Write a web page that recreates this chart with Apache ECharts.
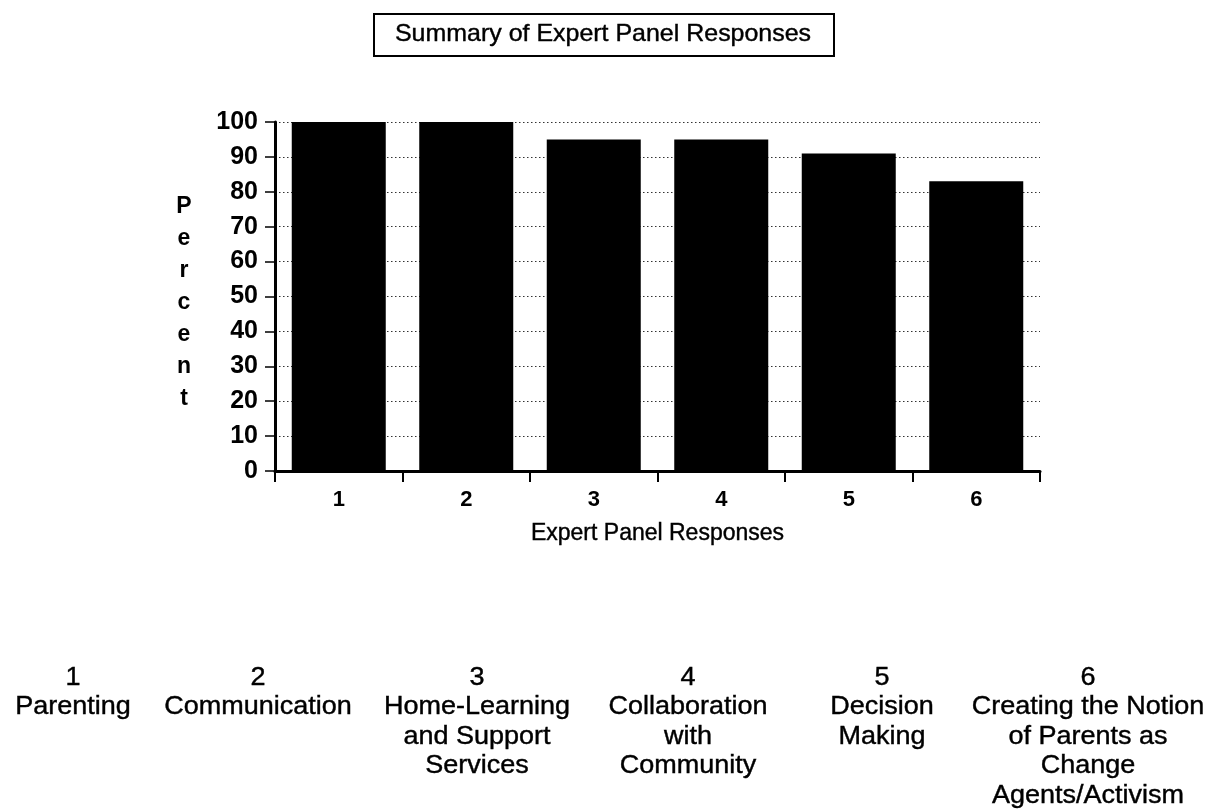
<!DOCTYPE html>
<html>
<head>
<meta charset="utf-8">
<script src="https://cdn.jsdelivr.net/npm/echarts@6/dist/echarts.min.js"></script>
<style>
html,body{margin:0;padding:0;background:#fff;}
#chart{width:1216px;height:812px;}
</style>
</head>
<body>
<div id="chart"></div>
<script>
var categories = ['1', '2', '3', '4', '5', '6'];
var percentValues = [100, 100, 95, 95, 91, 83];
var chartTitle = 'Summary of Expert Panel Responses';
var xAxisTitle = 'Expert Panel Responses';
var yAxisTitle = 'Percent';
var legendNumbers = ['1', '2', '3', '4', '5', '6'];
var legendNames = [
  'Parenting',
  'Communication',
  'Home-Learning\nand Support\nServices',
  'Collaboration\nwith\nCommunity',
  'Decision\nMaking',
  'Creating the Notion\nof Parents as\nChange\nAgents/Activism'
];

var FONT = "'Liberation Sans', Arial, Helvetica, sans-serif";
var legendCenters = [73, 258, 477, 688, 882, 1088];

var chart = echarts.init(document.getElementById('chart'), null, {renderer: 'canvas'});

var graphics = [
  {
    type: 'rect', left: 373, top: 13,
    shape: {width: 460, height: 42},
    style: {fill: '#fff', stroke: '#000', lineWidth: 2}
  },
  {
    type: 'text', x: 603, y: 34, scaleX: 1.04,
    style: {text: chartTitle, font: '24px ' + FONT, fill: '#000', align: 'center', verticalAlign: 'middle',
            stroke: '#000', lineWidth: 0.4}
  },
  {
    type: 'text', x: 184, y: 191,
    style: {text: yAxisTitle.split('').join('\n'), font: 'bold 23px ' + FONT, fill: '#000',
            align: 'center', verticalAlign: 'top', lineHeight: 32}
  }
];
for (var i = 0; i < legendNames.length; i++) {
  graphics.push({
    type: 'text', x: legendCenters[i], y: 663, scaleX: 1.08,
    style: {text: legendNumbers[i] + '\n' + legendNames[i], font: '25px ' + FONT, fill: '#000',
            align: 'center', verticalAlign: 'top', lineHeight: 29.5,
            stroke: '#000', lineWidth: 0.4}
  });
}

chart.setOption({
  backgroundColor: '#fff',
  animation: false,
  grid: {left: 275, right: 176, top: 122, bottom: 341, containLabel: false},
  xAxis: {
    type: 'category',
    data: categories,
    boundaryGap: true,
    name: xAxisTitle,
    nameLocation: 'middle',
    nameGap: 51,
    nameTextStyle: {fontFamily: FONT, fontSize: 23, color: '#000', textBorderColor: '#000', textBorderWidth: 0.4},
    axisLine: {show: true, lineStyle: {color: '#000', width: 3}},
    axisTick: {show: true, length: 11, lineStyle: {color: '#000', width: 2}},
    axisLabel: {fontFamily: FONT, fontSize: 22, fontWeight: 'bold', color: '#000', margin: 18, lineHeight: 22},
    splitLine: {show: false}
  },
  yAxis: {
    type: 'value',
    min: 0, max: 100, interval: 10,
    axisLine: {show: true, lineStyle: {color: '#000', width: 3}},
    axisTick: {show: true, length: 10, lineStyle: {color: '#000', width: 1.5}},
    axisLabel: {fontFamily: FONT, fontSize: 25, fontWeight: 'bold', color: '#000', margin: 17},
    splitLine: {show: true, lineStyle: {color: '#333', width: 1, type: [1.5, 2.5]}}
  },
  series: [{
    type: 'bar',
    data: percentValues,
    barWidth: 94,
    itemStyle: {color: '#000'},
    z: 3
  }],
  graphic: graphics
});
</script>
</body>
</html>
